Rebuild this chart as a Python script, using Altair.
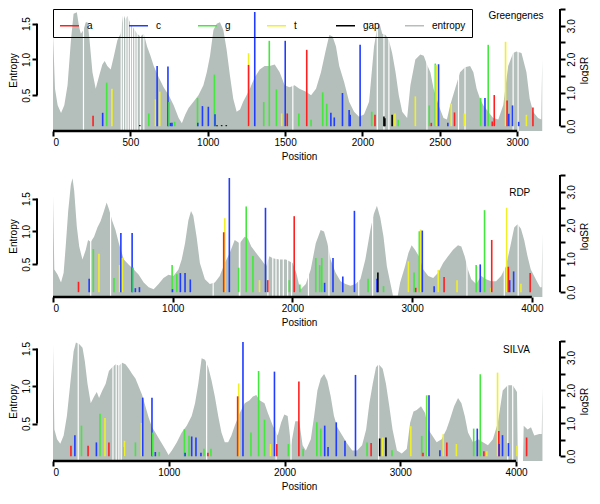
import altair as alt
import pandas as pd

FONT = "Liberation Sans"
GREY = "#b4bebb"
BASES = ["a", "c", "g", "t", "gap", "entropy"]
BASE_COLORS = ["#ff1f1f", "#1f3cff", "#44e83c", "#f0f028", "#000000", "#b4bebb"]

# ---------------- Greengenes ----------------
gg_pos = [0, 13, 30, 52, 73, 94, 116, 133, 154, 169, 180, 197, 212, 223, 234, 255, 276, 298, 319, 334,
          351, 373, 394, 416, 437, 454, 469, 480, 501, 523, 544, 565, 587, 608, 630, 651, 683, 715, 748, 780,
          812, 833, 855, 876, 908, 940, 972, 994, 1015, 1037, 1058, 1079, 1101, 1122, 1144, 1165, 1187, 1209,
          1229, 1251, 1272, 1304, 1336, 1368, 1400, 1433, 1465, 1497, 1529, 1561, 1593, 1636, 1668, 1700,
          1732, 1764, 1786, 1807, 1829, 1850, 1882, 1914, 1946, 1978, 2010, 2043, 2075, 2096, 2111, 2128,
          2150, 2171, 2192, 2214, 2235, 2257, 2289, 2310, 2342, 2374, 2396, 2417, 2439, 2460, 2492, 2524,
          2546, 2567, 2599, 2631, 2663, 2696, 2717, 2738, 2760, 2781, 2813, 2845, 2878, 2910, 2942, 2974,
          2995, 3028, 3060, 3081, 3103, 3135, 3156, 3162]
gg_ent = [1.36, 0.59, 0.36, 0.25, 0.36, 0.64, 1.27, 1.64, 1.66, 1.45, 1.36, 1.41, 1.52, 1.52, 1.32, 0.82,
          0.59, 0.77, 0.93, 0.98, 0.91, 0.86, 1.05, 1.27, 1.36, 1.64, 1.55, 1.61, 1.50, 1.43, 1.36, 1.32,
          1.36, 1.18, 1.05, 0.91, 0.75, 0.61, 0.50, 0.36, 0.18, 0.11, 0.23, 0.32, 0.41, 0.50, 0.64, 0.82,
          1.05, 1.41, 1.50, 1.52, 1.41, 1.14, 0.77, 0.45, 0.27, 0.30, 0.41, 0.50, 0.59, 0.75, 0.86, 0.91,
          0.91, 0.93, 0.82, 0.64, 0.61, 0.64, 0.59, 0.55, 0.50, 0.59, 0.82, 1.14, 1.34, 1.32, 1.18, 0.91,
          0.68, 0.41, 0.27, 0.20, 0.23, 0.41, 1.18, 1.45, 1.50, 1.36, 1.34, 1.27, 1.09, 0.82, 0.50, 0.27,
          0.18, 0.64, 1.00, 1.07, 1.05, 0.93, 0.82, 0.59, 0.36, 0.18, 0.16, 0.36, 0.59, 0.82, 0.89, 0.91,
          0.82, 0.59, 0.45, 0.36, 0.27, 0.18, 0.16, 0.36, 0.91, 1.09, 1.11, 1.09, 0.82, 0.45, 0.27, 0.18,
          0.16, 1.00]
gg_bar_pos = [259, 321, 347, 381, 561, 619, 662, 673, 690, 743, 750, 760, 769, 786, 934, 936, 966, 1004,
              1043, 1047, 1060, 1090, 1120, 1264, 1264, 1304, 1362, 1398, 1444, 1478, 1501, 1514, 1589,
              1640, 1668, 1743, 1769, 1796, 1818, 1871, 1914, 1921, 1985, 2060, 2081, 2139, 2145, 2192,
              2210, 2231, 2342, 2432, 2445, 2471, 2477, 2492, 2552, 2574, 2595, 2659, 2764, 2792, 2813,
              2839, 2852, 2925, 2935, 2946, 2970, 3010, 3060, 3102]
gg_bar_val = [0.31, 0.40, 1.30, 1.12, 0.03, 0.38, 0.80, 1.80, 1.03, 1.78, 0.72, 0.10, 0.10, 0.13, 0.84,
              0.10, 0.60, 0.58, 1.54, 0.36, 0.03, 0.03, 0.03, 2.18, 1.83, 3.41, 0.72, 2.55, 1.10, 0.38,
              2.55, 0.38, 0.38, 2.28, 0.19, 1.01, 0.67, 0.40, 0.26, 0.99, 0.48, 0.34, 2.43, 0.43, 0.34,
              0.29, 0.24, 0.34, 0.38, 0.19, 0.89, 0.62, 0.10, 1.87, 1.83, 1.85, 0.10, 0.67, 0.41, 0.38,
              0.84, 0.84, 2.43, 0.14, 0.93, 2.52, 0.77, 0.37, 0.62, 0.13, 0.34, 0.56]
gg_bar_base = ["a", "c", "g", "t", "gap", "g", "t", "c", "t", "c", "g", "c", "c", "g", "g", "c", "c", "c",
               "g", "c", "gap", "gap", "gap", "t", "a", "c", "g", "g", "g", "t", "c", "a", "g", "a", "g",
               "g", "g", "c", "c", "c", "c", "c", "c", "g", "a", "gap", "gap", "gap", "t", "g", "t", "g",
               "a", "g", "t", "c", "c", "t", "a", "t", "g", "c", "g", "a", "a", "t", "a", "c", "c", "c",
               "t", "a"]
gg_gaps = [197, 441, 455, 471, 486, 501, 514, 529, 544, 565, 587, 1550, 2096, 2139, 2171, 2417, 2621,
           2663, 2974, 3006]

# ---------------- RDP ----------------
rdp_pos = [0, 11, 39, 67, 89, 108, 127, 149, 163, 177, 199, 219, 246, 274, 293, 315, 343, 371, 398, 426,
           448, 467, 495, 522, 550, 592, 633, 675, 716, 758, 799, 841, 882, 923, 965, 1006, 1048, 1075,
           1103, 1131, 1153, 1172, 1200, 1227, 1269, 1310, 1352, 1393, 1435, 1476, 1518, 1559, 1601, 1628,
           1656, 1697, 1739, 1780, 1808, 1836, 1891, 1946, 2002, 2035, 2057, 2070, 2112, 2153, 2195, 2236,
           2264, 2292, 2319, 2361, 2402, 2444, 2485, 2527, 2568, 2609, 2651, 2679, 2706, 2734, 2761, 2789,
           2817, 2840, 2880, 2900, 2941, 2969, 2996, 3024, 3057, 3093, 3135, 3176, 3217, 3259, 3300, 3342,
           3383, 3411, 3439, 3466, 3494, 3535, 3577, 3618, 3660, 3701, 3743, 3784, 3820, 3853, 3881, 3909,
           3936, 3964, 3991, 4019, 4047, 4069, 4082, 4088]
rdp_ent = [1.54, 0.42, 0.34, 0.22, 0.37, 0.82, 1.31, 1.71, 1.81, 1.62, 1.07, 0.77, 0.57, 0.72, 0.87, 0.84,
           0.92, 1.06, 1.16, 1.31, 1.44, 1.34, 1.16, 1.02, 0.82, 0.57, 0.49, 0.42, 0.34, 0.22, 0.15, 0.12,
           0.20, 0.29, 0.34, 0.32, 0.42, 0.57, 0.82, 1.17, 1.31, 1.24, 0.91, 0.52, 0.27, 0.20, 0.22, 0.32,
           0.52, 0.67, 0.87, 0.82, 0.92, 0.89, 0.77, 0.67, 0.57, 0.47, 0.62, 0.59, 0.57, 0.57, 0.52, 0.35,
           0.17, 0.12, 0.20, 0.42, 0.82, 1.02, 1.00, 0.82, 0.57, 0.37, 0.24, 0.20, 0.17, 0.20, 0.27, 0.57,
           1.02, 1.26, 1.39, 1.21, 0.92, 0.47, 0.22, 0.02, 0.02, 0.22, 0.47, 0.67, 0.79, 0.72, 0.62, 0.42,
           0.32, 0.29, 0.37, 0.52, 0.62, 0.72, 0.79, 0.77, 0.62, 0.42, 0.27, 0.20, 0.32, 0.27, 0.24, 0.24,
           0.32, 0.47, 0.77, 1.06, 1.11, 1.04, 0.87, 0.62, 0.42, 0.32, 0.22, 0.15, 0.15, 0.97]
rdp_bar_pos = [213, 302, 337, 384, 509, 556, 567, 581, 661, 669, 688, 722, 995, 998, 1034, 1064, 1103,
               1147, 1435, 1426, 1473, 1551, 1614, 1670, 1725, 1775, 1794, 1974, 2015, 2062, 2195, 2228,
               2245, 2269, 2339, 2421, 2518, 2632, 2706, 2714, 2761, 2969, 3016, 3030, 3060, 3071, 3085,
               3184, 3218, 3267, 3375, 3535, 3569, 3605, 3660, 3665, 3790, 3804, 3815, 3848, 3909, 3986]
rdp_bar_val = [0.31, 0.40, 1.29, 1.15, 0.42, 0.81, 1.77, 1.02, 1.77, 0.74, 0.12, 0.15, 0.81, 0.09, 0.54,
               0.57, 0.57, 0.38, 2.21, 1.79, 3.41, 0.73, 2.56, 1.08, 0.36, 2.52, 0.36, 0.36, 2.27, 0.23,
               1.02, 0.81, 1.02, 0.28, 1.02, 0.47, 2.43, 0.40, 0.40, 0.59, 0.18, 0.92, 0.59, 0.13, 1.82,
               1.87, 1.84, 0.18, 0.66, 0.45, 0.36, 0.81, 0.83, 2.45, 0.13, 1.56, 2.52, 0.76, 0.36, 0.62,
               0.25, 0.57]
rdp_bar_base = ["a", "c", "g", "t", "g", "t", "c", "t", "c", "g", "c", "c", "g", "c", "g", "c", "c", "c",
                "t", "a", "c", "g", "g", "g", "t", "c", "a", "g", "a", "g", "g", "g", "g", "c", "c", "c",
                "c", "g", "c", "gap", "g", "t", "g", "a", "g", "t", "c", "c", "t", "a", "t", "g", "c", "g",
                "t", "a", "t", "a", "c", "c", "t", "a"]
rdp_gaps = [315, 481, 1338, 1557, 1561, 1795, 1836, 1863, 1891, 1924, 1960, 1993, 2134, 2305, 2554, 2670,
            3458, 3770, 3886]

# ---------------- SILVA ----------------
silva_pos = [0, 12, 35, 63, 92, 120, 149, 178, 198, 226, 255, 275, 298, 326, 355, 378, 398, 426, 455, 483,
             512, 541, 569, 598, 626, 655, 684, 712, 741, 770, 798, 826, 855, 884, 926, 969, 998, 1027,
             1070, 1112, 1155, 1198, 1227, 1255, 1284, 1313, 1341, 1370, 1398, 1427, 1455, 1484, 1513,
             1541, 1570, 1613, 1656, 1698, 1727, 1756, 1784, 1827, 1856, 1899, 1941, 1970, 1998, 2027,
             2056, 2093, 2127, 2156, 2184, 2227, 2256, 2284, 2313, 2342, 2370, 2399, 2427, 2456, 2499,
             2542, 2585, 2627, 2670, 2705, 2733, 2762, 2790, 2813, 2848, 2876, 2905, 2933, 2971, 3013,
             3056, 3085, 3114, 3142, 3179, 3214, 3242, 3276, 3314, 3357, 3399, 3428, 3465, 3499, 3528,
             3557, 3585, 3628, 3671, 3714, 3757, 3800, 3843, 3885, 3928, 3971, 4008, 4015, 4060, 4066,
             4100, 4129, 4157, 4200, 4222, 4228]
silva_ent = [1.55, 0.42, 0.29, 0.23, 0.34, 0.60, 1.03, 1.46, 1.58, 1.56, 1.51, 1.33, 1.03, 0.77, 0.86,
             0.92, 0.84, 0.94, 1.03, 1.20, 1.25, 1.29, 1.27, 1.31, 1.29, 1.23, 1.16, 1.10, 0.99, 0.88,
             0.73, 0.58, 0.45, 0.38, 0.27, 0.16, 0.08, 0.14, 0.25, 0.38, 0.47, 0.60, 0.77, 1.03, 1.37,
             1.35, 1.25, 1.07, 0.86, 0.60, 0.38, 0.25, 0.25, 0.34, 0.47, 0.64, 0.77, 0.81, 0.86, 0.88,
             0.81, 0.77, 0.64, 0.47, 0.34, 0.51, 0.62, 0.60, 0.21, 0.53, 0.53, 0.21, 0.14, 0.29, 0.60,
             0.94, 1.10, 1.16, 1.07, 0.86, 0.60, 0.45, 0.34, 0.23, 0.14, 0.14, 0.21, 0.42, 0.77, 1.03,
             1.25, 1.29, 1.23, 1.03, 0.73, 0.42, 0.14, 0.10, 0.16, 0.51, 0.66, 0.68, 0.73, 0.64, 0.42,
             0.34, 0.25, 0.29, 0.42, 0.55, 0.73, 0.84, 0.77, 0.60, 0.38, 0.25, 0.29, 0.25, 0.21, 0.29,
             0.51, 0.94, 1.01, 1.01, 0.92, 0.0, 0.0, 0.47, 0.42, 0.45, 0.34, 0.36, 0.36, 0.99]
silva_bar_pos = [155, 189, 246, 303, 375, 406, 449, 483, 612, 618, 712, 764, 775, 855, 861, 884, 918, 1135,
                 1141, 1175, 1198, 1235, 1278, 1304, 1338, 1364, 1604, 1595, 1641, 1710, 1776, 1827, 1879,
                 1913, 1933, 2033, 2124, 2161, 2279, 2313, 2347, 2376, 2447, 2522, 2613, 2713, 2748, 2822,
                 2848, 2876, 2928, 3091, 3185, 3196, 3228, 3236, 3248, 3342, 3371, 3402, 3485, 3634, 3665,
                 3691, 3722, 3748, 3840, 3851, 3854, 3883, 3934, 4008, 4091]
silva_bar_val = [0.32, 0.64, 0.93, 0.32, 0.42, 1.29, 1.16, 0.42, 0.28, 0.47, 0.42, 1.01, 1.78, 1.78, 0.72,
                 0.13, 0.13, 0.82, 0.11, 0.62, 0.60, 0.57, 0.11, 0.23, 0.11, 0.23, 2.21, 1.82, 3.47, 0.72,
                 2.59, 1.11, 0.37, 2.57, 0.37, 0.37, 2.27, 0.23, 1.03, 0.84, 0.93, 0.28, 1.03, 0.47, 2.47,
                 0.42, 0.40, 0.54, 0.57, 0.57, 0.18, 0.91, 0.62, 0.11, 1.85, 1.85, 1.85, 0.18, 0.67, 0.42,
                 0.37, 0.84, 0.84, 2.49, 0.15, 0.15, 2.54, 0.77, 0.37, 0.64, 0.40, 0.32, 0.57]
silva_bar_base = ["a", "c", "g", "a", "c", "g", "t", "a", "g", "t", "g", "t", "c", "c", "g", "c", "g", "g",
                  "c", "g", "c", "c", "c", "g", "a", "g", "t", "a", "c", "g", "g", "g", "t", "c", "a", "g",
                  "a", "g", "g", "g", "c", "c", "c", "c", "c", "g", "a", "gap", "t", "gap", "g", "t", "g",
                  "a", "g", "t", "c", "c", "t", "a", "t", "g", "c", "g", "a", "t", "t", "a", "c", "c", "c",
                  "t", "a"]
silva_gaps = [218, 518, 546, 569, 589, 1327, 1927, 2056, 2813, 3928, 3971]

W = 492
ONE = pd.DataFrame({"k": [0]})


def panel(name, pos, ent, bpos, bval, bbase, gaps, xmax, xticks, emax, height,
          lx, ly, lalign, legend):
    def xs():
        return alt.Scale(domain=[0, xmax], nice=False, zero=False)

    def ysl():
        return alt.Scale(domain=[0, emax], nice=False, zero=False)

    def ysr():
        return alt.Scale(domain=[-0.144, 3.5], nice=False, zero=False)

    def x_axis():
        return alt.Axis(values=xticks, domain=False, tickSize=5, tickWidth=2, tickColor="black",
                        labelFontSize=10, labelPadding=1, format="d", title="Position",
                        titleFontSize=10, titlePadding=4, grid=False)

    ent_df = pd.DataFrame({"pos": pos, "ent": ent})
    bar_df = pd.DataFrame({"pos": bpos, "logSR": bval, "base": bbase})
    gap_df = pd.DataFrame({"pos": gaps})

    yl_axis = alt.Axis(orient="left", values=[0.5, 1.0, 1.5], domain=False, tickSize=5, tickWidth=2,
                       tickColor="black", offset=16, labelAngle=270, labelAlign="center",
                       labelBaseline="bottom", labelPadding=1, format=".1f", title="Entropy",
                       titleFontSize=10, titlePadding=3, grid=False)
    yr_axis = alt.Axis(orient="right", values=[0, 0.5, 1.0, 1.5, 2.0, 2.5, 3.0, 3.5],
                       labelExpr="datum.value % 1 == 0 ? format(datum.value, '.1f') : ''",
                       domain=False, tickSize=5, tickWidth=2, tickColor="black", offset=15,
                       labelAngle=270, labelAlign="center", labelBaseline="top", labelPadding=1,
                       title="logSR", titleAngle=270, titleBaseline="top", titleFontSize=10,
                       titlePadding=3, grid=False)

    area = alt.Chart(ent_df).mark_area(color=GREY, interpolate="linear").encode(
        x=alt.X("pos:Q", scale=xs(), axis=x_axis(), title="Position"),
        y=alt.Y("ent:Q", scale=ysl(), axis=yl_axis),
    )
    gap_lines = alt.Chart(gap_df).mark_rule(color="white", strokeWidth=1.2).encode(
        x=alt.X("pos:Q", scale=xs(), axis=x_axis(), title="Position"),
        y=alt.Y(datum=0, scale=ysl(), axis=None),
        y2=alt.Y2(datum=emax),
    )
    bars = alt.Chart(bar_df).mark_rule(strokeWidth=1.6).encode(
        x=alt.X("pos:Q", scale=xs(), axis=x_axis(), title="Position"),
        y=alt.Y("logSR:Q", scale=ysr(), axis=yr_axis),
        y2=alt.Y2(datum=0),
        color=alt.Color("base:N", scale=alt.Scale(domain=BASES, range=BASE_COLORS),
                        sort=BASES, legend=legend),
    )
    xline = alt.Chart(ONE).mark_rule(color="black", strokeWidth=2.5).encode(
        x=alt.X(datum=0, scale=xs(), axis=x_axis(), title="Position"),
        x2=alt.X2(datum=xticks[-1]),
        y=alt.Y(datum=0, scale=ysl(), axis=None),
    )
    lline = alt.Chart(ONE).mark_rule(color="black", strokeWidth=2).encode(
        x=alt.value(-16),
        y=alt.Y(datum=0.5, scale=ysl(), axis=None),
        y2=alt.Y2(datum=1.5),
    )
    rline = alt.Chart(ONE).mark_rule(color="black", strokeWidth=2).encode(
        x=alt.value(W + 15),
        y=alt.Y(datum=0, scale=ysr(), axis=None),
        y2=alt.Y2(datum=3.5),
    )
    label = alt.Chart(ONE).mark_text(font=FONT, fontSize=10, color="black", align=lalign,
                                     baseline="middle").encode(
        x=alt.X(datum=lx, scale=xs(), axis=x_axis(), title="Position"),
        y=alt.Y(datum=ly, scale=ysl(), axis=None),
        text=alt.value(name),
    )
    return alt.layer(area, gap_lines, bars, xline, lline, rline, label).resolve_scale(
        y="independent"
    ).properties(width=W, height=height)


leg = alt.Legend(orient="none", legendX=0, legendY=0, direction="horizontal", title=None,
                 symbolType="stroke", symbolSize=361, symbolStrokeWidth=1.5, labelFontSize=10,
                 labelFont=FONT, labelOffset=7, columnPadding=5, gridAlign="all",
                 strokeColor="black", padding=6)

p1 = panel("Greengenes", gg_pos, gg_ent, gg_bar_pos, gg_bar_val, gg_bar_base, gg_gaps,
           3180, [0, 500, 1000, 1500, 2000, 2500, 3000], 1.705, 122, 3170, 1.606, "right", leg)
p2 = panel("RDP", rdp_pos, rdp_ent, rdp_bar_pos, rdp_bar_val, rdp_bar_base, rdp_gaps,
           4110, [0, 1000, 2000, 3000, 4000], 1.86, 122, 3899, 1.59, "center", None)
p3 = panel("SILVA", silva_pos, silva_ent, silva_bar_pos, silva_bar_val, silva_bar_base, silva_gaps,
           4250, [0, 1000, 2000, 3000, 4000], 1.6, 120, 4003, 1.48, "center", None)

chart = alt.vconcat(p1, p2, p3, spacing=13).resolve_scale(
    x="independent", y="independent", color="independent"
).properties(
    padding={"left": 0, "top": 0, "right": 0, "bottom": 0}
).configure_view(stroke=None).configure_axis(
    labelFont=FONT, titleFont=FONT, labelColor="black", titleColor="black",
    titleFontWeight="normal", labelFontSize=10, titleFontSize=10,
).configure_legend(labelFont=FONT, labelColor="black").configure_text(font=FONT)

chart.save("out.html", embed_options={"renderer": "svg", "actions": False})
